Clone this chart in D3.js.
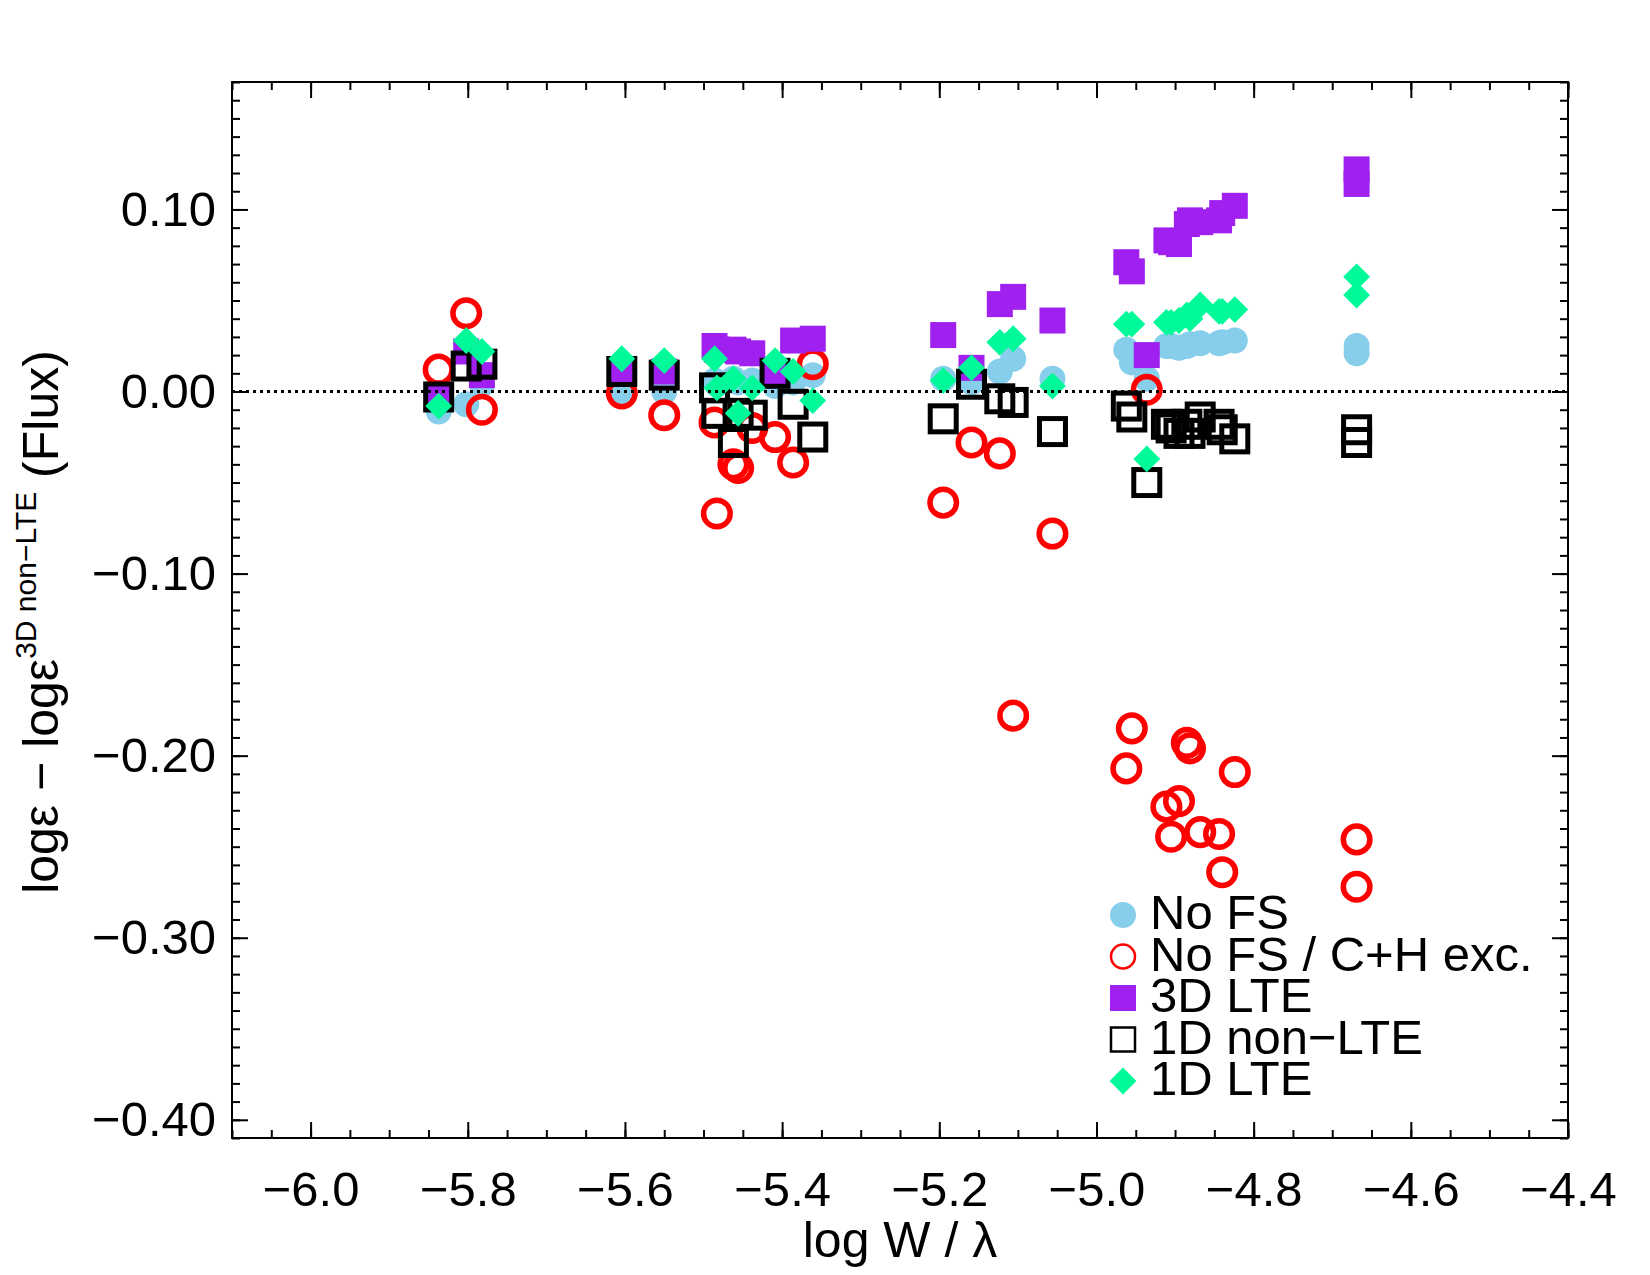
<!DOCTYPE html>
<html lang="en">
<head>
<meta charset="UTF-8">
<title>log eps differences vs log W/lambda</title>
<script src="https://d3js.org/d3.v7.min.js"></script>
<style>
  body { margin: 0; background: #fff; }
  text { font-family: "Liberation Sans", Arial, Helvetica, sans-serif; fill: #000; }
</style>
</head>
<body>
<div id="chart"></div>
<script>
// line positions (log W / lambda), shared by all five series
const logW = [-5.837, -5.802, -5.782, -5.604, -5.550, -5.486, -5.483, -5.462, -5.456, -5.438,
              -5.409, -5.386, -5.361, -5.195, -5.159, -5.123, -5.106, -5.056, -4.962, -4.955,
              -4.936, -4.911, -4.905, -4.895, -4.885, -4.881, -4.868, -4.844, -4.840, -4.824,
              -4.669, -4.669];

// abundance differences for each case
const noFS    = [-0.011, -0.007, 0.004, 0.000, 0.000, 0.006, 0.004, 0.007, 0.005, 0.006,
                 0.003, 0.005, 0.009, 0.007, 0.005, 0.011, 0.018, 0.007, 0.023, 0.016,
                 0.007, 0.025, 0.025, 0.024, 0.025, 0.026, 0.0265, 0.0265, 0.027, 0.028,
                 0.025, 0.021];
const noFSexc = [0.012, 0.043, -0.010, -0.001, -0.013, -0.017, -0.067, -0.040, -0.042, -0.020,
                 -0.025, -0.039, 0.015, -0.061, -0.028, -0.034, -0.178, -0.078, -0.207, -0.185,
                 0.001, -0.228, -0.2445, -0.225, -0.193, -0.196, -0.242, -0.243, -0.264, -0.209,
                 -0.246, -0.272];
const lte3D   = [-0.004, 0.022, 0.009, 0.011, 0.011, 0.025, 0.023, 0.023, 0.022, 0.021,
                 0.009, 0.028, 0.029, 0.031, 0.013, 0.048, 0.052, 0.039, 0.071, 0.066,
                 0.020, 0.083, 0.082, 0.081, 0.092, 0.094, 0.093, 0.094, 0.098, 0.102,
                 0.122, 0.114];
const nlte1D  = [-0.003, 0.014, 0.015, 0.011, 0.009, 0.002, -0.012, -0.028, -0.012, -0.013,
                 0.010, -0.007, -0.025, -0.015, 0.004, -0.004, -0.006, -0.022, -0.008, -0.014,
                 -0.050, -0.018, -0.020, -0.023, -0.018, -0.023, -0.014, -0.018, -0.021, -0.026,
                 -0.021, -0.028];
const lte1D   = [-0.008, 0.028, 0.022, 0.018, 0.017, 0.018, 0.002, 0.007, -0.012, 0.002,
                 0.017, 0.011, -0.005, 0.006, 0.013, 0.027, 0.029, 0.003, 0.037, 0.037,
                 -0.037, 0.038, 0.038, 0.039, 0.042, 0.040, 0.0475, 0.044, 0.044, 0.045,
                 0.063, 0.053];

const xTicks = [-6.0, -5.8, -5.6, -5.4, -5.2, -5.0, -4.8, -4.6, -4.4];
const yTicks = [0.10, 0.00, -0.10, -0.20, -0.30, -0.40];
const legendLabels = ["No FS", "No FS / C+H exc.", "3D LTE", "1D non\u2212LTE", "1D LTE"];

const width = 1650, height = 1275;
const mLeft = 232, mRight = 1568, mTop = 82, mBottom = 1138;

const svg = d3.select("#chart").append("svg")
    .attr("width", width)
    .attr("height", height);

const x = d3.scaleLinear().domain([-6.1, -4.4]).range([mLeft, mRight]);
const y = d3.scaleLinear().domain([0.17, -0.41]).range([mTop, mBottom]);

// minor tick values
const xMinor = d3.range(-6.1, -4.399, 0.05).map(v => +v.toFixed(2));
const yMinor = d3.range(-0.41, 0.1701, 0.01).map(v => +v.toFixed(2));

function axisStyle(g) {
    g.select(".domain").remove();
    g.selectAll(".tick line").attr("stroke", "#000").attr("stroke-width", 2);
}

// bottom
svg.append("g").attr("transform", `translate(0,${mBottom})`)
    .call(d3.axisBottom(x).tickValues(xMinor).tickSize(-8).tickFormat(""))
    .call(axisStyle);
svg.append("g").attr("transform", `translate(0,${mBottom})`)
    .call(d3.axisBottom(x).tickValues(xTicks).tickSize(-16).tickPadding(33)
        .tickFormat(d3.format(".1f")))
    .call(axisStyle)
    .call(g => g.selectAll("text").style("font-size", "49px")
        .style("font-family", "'Liberation Sans', Arial, sans-serif"));
// top
svg.append("g").attr("transform", `translate(0,${mTop})`)
    .call(d3.axisTop(x).tickValues(xMinor).tickSize(-8).tickFormat(""))
    .call(axisStyle);
svg.append("g").attr("transform", `translate(0,${mTop})`)
    .call(d3.axisTop(x).tickValues(xTicks).tickSize(-16).tickFormat(""))
    .call(axisStyle);
// left
svg.append("g").attr("transform", `translate(${mLeft},0)`)
    .call(d3.axisLeft(y).tickValues(yMinor).tickSize(-8).tickFormat(""))
    .call(axisStyle);
svg.append("g").attr("transform", `translate(${mLeft},0)`)
    .call(d3.axisLeft(y).tickValues(yTicks).tickSize(-16).tickPadding(16)
        .tickFormat(d3.format(".2f")))
    .call(axisStyle)
    .call(g => g.selectAll("text").style("font-size", "49px")
        .style("font-family", "'Liberation Sans', Arial, sans-serif"));
// right
svg.append("g").attr("transform", `translate(${mRight},0)`)
    .call(d3.axisRight(y).tickValues(yMinor).tickSize(-8).tickFormat(""))
    .call(axisStyle);
svg.append("g").attr("transform", `translate(${mRight},0)`)
    .call(d3.axisRight(y).tickValues(yTicks).tickSize(-16).tickFormat(""))
    .call(axisStyle);

// frame
svg.append("rect")
    .attr("x", mLeft).attr("y", mTop)
    .attr("width", mRight - mLeft).attr("height", mBottom - mTop)
    .attr("fill", "none").attr("stroke", "#000").attr("stroke-width", 2);

const pts = arr => logW.map((w, i) => [w, arr[i]]);
const plot = svg.append("g");

// No FS - filled sky blue circles
plot.selectAll(".nofs").data(pts(noFS)).join("circle")
    .attr("cx", d => x(d[0])).attr("cy", d => y(d[1]))
    .attr("r", 13).attr("fill", "#87ceeb");

// No FS / C+H exc - open red circles
plot.selectAll(".exc").data(pts(noFSexc)).join("circle")
    .attr("cx", d => x(d[0])).attr("cy", d => y(d[1]))
    .attr("r", 13.3).attr("fill", "none")
    .attr("stroke", "#ff0000").attr("stroke-width", 5.5);

// 3D LTE - filled purple squares
plot.selectAll(".lte3d").data(pts(lte3D)).join("rect")
    .attr("x", d => x(d[0]) - 13).attr("y", d => y(d[1]) - 13)
    .attr("width", 26).attr("height", 26).attr("fill", "#a020f0");

// 1D non-LTE - open black squares
plot.selectAll(".nlte1d").data(pts(nlte1D)).join("rect")
    .attr("x", d => x(d[0]) - 13).attr("y", d => y(d[1]) - 13)
    .attr("width", 26).attr("height", 26).attr("fill", "none")
    .attr("stroke", "#000").attr("stroke-width", 5);

// 1D LTE - filled green diamonds
const diamond = d3.symbol(d3.symbolSquare, 19 * 19);
plot.selectAll(".lte1d").data(pts(lte1D)).join("path")
    .attr("d", diamond)
    .attr("transform", d => `translate(${x(d[0])},${y(d[1])}) rotate(45)`)
    .attr("fill", "#00fa9a");

// zero line
svg.append("line")
    .attr("x1", mLeft).attr("x2", mRight)
    .attr("y1", y(0)).attr("y2", y(0))
    .attr("stroke", "#000").attr("stroke-width", 3)
    .attr("stroke-dasharray", "3,4");

// axis titles
svg.append("text")
    .attr("x", (mLeft + mRight) / 2).attr("y", 1257)
    .attr("text-anchor", "middle")
    .style("font-size", "50px")
    .text("log W / \u03bb");

const yTitle = svg.append("text")
    .attr("transform", "translate(58,622) rotate(-90)")
    .attr("text-anchor", "middle")
    .style("font-size", "50px");
yTitle.append("tspan").text("log\u03b5 \u2212 log\u03b5");
yTitle.append("tspan").attr("dy", -22).style("font-size", "30px").text("3D non\u2212LTE");
yTitle.append("tspan").attr("dy", 22).text(" (Flux)");

// legend
const legend = svg.append("g");
const legendX = 1123, legendY = 915, legendStep = 41.5;
legendLabels.forEach((label, i) => {
    const cy = legendY + i * legendStep;
    if (i === 0) {
        legend.append("circle").attr("cx", legendX).attr("cy", cy).attr("r", 13).attr("fill", "#87ceeb");
    } else if (i === 1) {
        legend.append("circle").attr("cx", legendX).attr("cy", cy).attr("r", 12)
            .attr("fill", "none").attr("stroke", "#ff0000").attr("stroke-width", 2.5);
    } else if (i === 2) {
        legend.append("rect").attr("x", legendX - 13).attr("y", cy - 13)
            .attr("width", 26).attr("height", 26).attr("fill", "#a020f0");
    } else if (i === 3) {
        legend.append("rect").attr("x", legendX - 12).attr("y", cy - 12)
            .attr("width", 24).attr("height", 24).attr("fill", "none")
            .attr("stroke", "#000").attr("stroke-width", 2.5);
    } else {
        legend.append("path").attr("d", diamond)
            .attr("transform", `translate(${legendX},${cy}) rotate(45)`)
            .attr("fill", "#00fa9a");
    }
    legend.append("text")
        .attr("x", legendX + 27).attr("y", cy + 14)
        .style("font-size", "49px")
        .text(label);
});
</script>
</body>
</html>
